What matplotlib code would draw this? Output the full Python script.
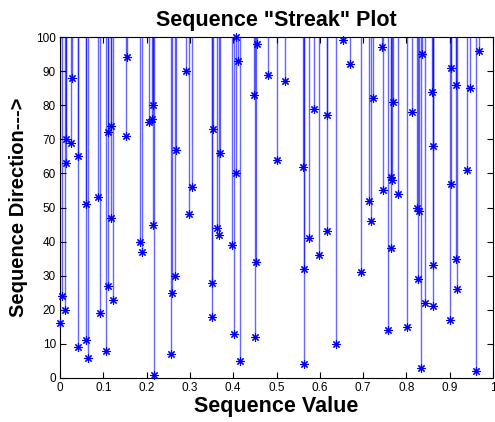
import matplotlib
matplotlib.use("Agg")
import matplotlib.pyplot as plt
import numpy as np

plt.rcParams['font.family'] = ['Liberation Sans', 'DejaVu Sans']

# sequence values, in order of index 1..100
seq_values = [0.217, 0.961, 0.834, 0.563, 0.416, 0.064, 0.256, 0.107, 0.042, 0.637,
              0.059, 0.451, 0.403, 0.757, 0.801, 0.000, 0.901, 0.352, 0.093, 0.012,
              0.861, 0.843, 0.122, 0.005, 0.258, 0.918, 0.112, 0.352, 0.827, 0.266,
              0.695, 0.563, 0.862, 0.453, 0.915, 0.599, 0.189, 0.764, 0.398, 0.185,
              0.576, 0.368, 0.617, 0.362, 0.214, 0.718, 0.118, 0.299, 0.830, 0.824,
              0.060, 0.714, 0.087, 0.780, 0.747, 0.306, 0.902, 0.766, 0.764, 0.406,
              0.941, 0.562, 0.014, 0.502, 0.041, 0.370, 0.269, 0.861, 0.025, 0.015,
              0.152, 0.112, 0.353, 0.118, 0.206, 0.212, 0.616, 0.812, 0.587, 0.214,
              0.770, 0.722, 0.449, 0.858, 0.948, 0.915, 0.520, 0.028, 0.480, 0.291,
              0.903, 0.670, 0.412, 0.155, 0.835, 0.967, 0.743, 0.454, 0.654, 0.406]
directions = list(range(1, 101))
x_ticks = [0, 0.1, 0.2, 0.3, 0.4, 0.5, 0.6, 0.7, 0.8, 0.9, 1]
x_tick_labels = ['0', '0.1', '0.2', '0.3', '0.4', '0.5', '0.6', '0.7', '0.8', '0.9', '1']
y_ticks = list(range(0, 101, 10))

fig = plt.figure(figsize=(4.95, 4.22), dpi=100)
ax = fig.add_axes([60/495, 44/422, 433/495, 341/422])

top = max(directions)
ax.vlines(seq_values, directions, top, colors='#0000ff', alpha=0.6, linewidth=1.0)
ax.plot(seq_values, directions, linestyle='none', marker=(8, 2, 0), color='#0000ff',
        markersize=6, markeredgewidth=0.8, clip_on=False, zorder=3)

ax.set_xlim(0, 1)
ax.set_ylim(0, 100)
ax.set_xticks(x_ticks)
ax.set_xticklabels(x_tick_labels)
ax.set_yticks(y_ticks)
ax.tick_params(direction='in', top=True, right=True, labelsize=8.5, length=4, pad=3)
for s in ax.spines.values():
    s.set_linewidth(0.8)

ax.set_title('Sequence "Streak" Plot', fontsize=15.5, fontweight='bold', pad=8)
ax.set_xlabel('Sequence Value', fontsize=15.5, fontweight='bold', labelpad=1)
ax.set_ylabel('Sequence Direction--->', fontsize=14.5, fontweight='bold', labelpad=6)

fig.savefig('out.png', dpi=100)
